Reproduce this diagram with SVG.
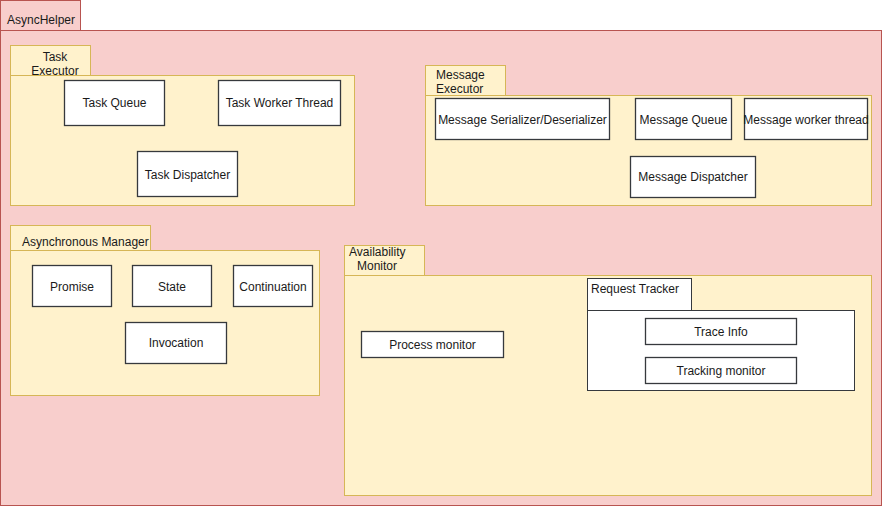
<svg xmlns="http://www.w3.org/2000/svg" width="882" height="506" viewBox="0 0 882 506">
<style>
.outer{fill:#f8cecc;stroke:#b85450;stroke-width:1}
.pkg{fill:#fff2cc;stroke:#d6b656;stroke-width:1}
.box{fill:#ffffff;stroke:#36393d;stroke-width:1.3}
.rt{fill:#ffffff;stroke:#36393d;stroke-width:1}
text{font-family:"Liberation Sans",Arial,sans-serif;font-size:12px;fill:#1a1a1a}
.c{text-anchor:middle}
</style>
<rect width="882" height="506" fill="#ffffff"/>
<g id="AsyncHelper">
<rect class="outer" x="0.5" y="0.5" width="80" height="30"/>
<rect class="outer" x="0.5" y="30.5" width="881" height="475"/>
<text x="7" y="24">AsyncHelper</text>
</g>
<g id="TaskExecutor">
<rect class="pkg" x="10.5" y="45.5" width="80" height="30"/>
<rect class="pkg" x="10.5" y="75.5" width="344" height="130"/>
<text class="c" x="55" y="61">Task</text>
<text class="c" x="55" y="75">Executor</text>
</g>
<g id="TaskQueue"><rect class="box" x="64.5" y="80.5" width="100" height="45"/><text class="c" x="114.5" y="107">Task Queue</text></g>
<g id="TaskWorkerThread"><rect class="box" x="218.5" y="80.5" width="122" height="45"/><text class="c" x="279.5" y="107">Task Worker Thread</text></g>
<g id="TaskDispatcher"><rect class="box" x="137.5" y="151.5" width="100" height="45"/><text class="c" x="187.5" y="179">Task Dispatcher</text></g>

<g id="MessageExecutor">
<rect class="pkg" x="425.5" y="65.5" width="80" height="30"/>
<rect class="pkg" x="425.5" y="95.5" width="446" height="110"/>
<text x="436" y="79">Message</text>
<text x="436" y="93">Executor</text>
</g>
<g id="MessageSerializer"><rect class="box" x="435.5" y="98.5" width="174" height="41"/><text class="c" x="522.5" y="124">Message Serializer/Deserializer</text></g>
<g id="MessageQueue"><rect class="box" x="635.5" y="98.5" width="96" height="41"/><text class="c" x="683.5" y="124">Message Queue</text></g>
<g id="MessageWorkerThread"><rect class="box" x="744.5" y="98.5" width="123" height="41"/><text class="c" x="806" y="124">Message worker thread</text></g>
<g id="MessageDispatcher"><rect class="box" x="630.5" y="156.5" width="125" height="41"/><text class="c" x="693" y="181">Message Dispatcher</text></g>

<g id="AsynchronousManager">
<rect class="pkg" x="10.5" y="225.5" width="140" height="25"/>
<rect class="pkg" x="10.5" y="250.5" width="309" height="145"/>
<text x="22" y="246">Asynchronous Manager</text>
</g>
<g id="Promise"><rect class="box" x="32.5" y="265.5" width="79" height="41"/><text class="c" x="72" y="291">Promise</text></g>
<g id="State"><rect class="box" x="132.5" y="265.5" width="79" height="41"/><text class="c" x="172" y="291">State</text></g>
<g id="Continuation"><rect class="box" x="233.5" y="265.5" width="79" height="41"/><text class="c" x="273" y="291">Continuation</text></g>
<g id="Invocation"><rect class="box" x="125.5" y="322.5" width="101" height="41"/><text class="c" x="176" y="347">Invocation</text></g>

<g id="AvailabilityMonitor">
<rect class="pkg" x="344.5" y="245.5" width="80" height="30"/>
<rect class="pkg" x="344.5" y="275.5" width="527" height="220"/>
<text x="349" y="256">Availability</text>
<text x="357" y="270">Monitor</text>
</g>
<g id="ProcessMonitor"><rect class="box" x="361.5" y="331.5" width="142" height="26"/><text class="c" x="432.5" y="349">Process monitor</text></g>
<g id="RequestTracker">
<rect class="rt" x="587.5" y="278.5" width="104" height="32"/>
<rect class="rt" x="587.5" y="310.5" width="267" height="80"/>
<text x="591" y="293">Request Tracker</text>
</g>
<g id="TraceInfo"><rect class="box" x="645.5" y="318.5" width="151" height="26"/><text class="c" x="721" y="336">Trace Info</text></g>
<g id="TrackingMonitor"><rect class="box" x="645.5" y="357.5" width="151" height="26"/><text class="c" x="721" y="375">Tracking monitor</text></g>
<g id="connectors"></g>
</svg>
